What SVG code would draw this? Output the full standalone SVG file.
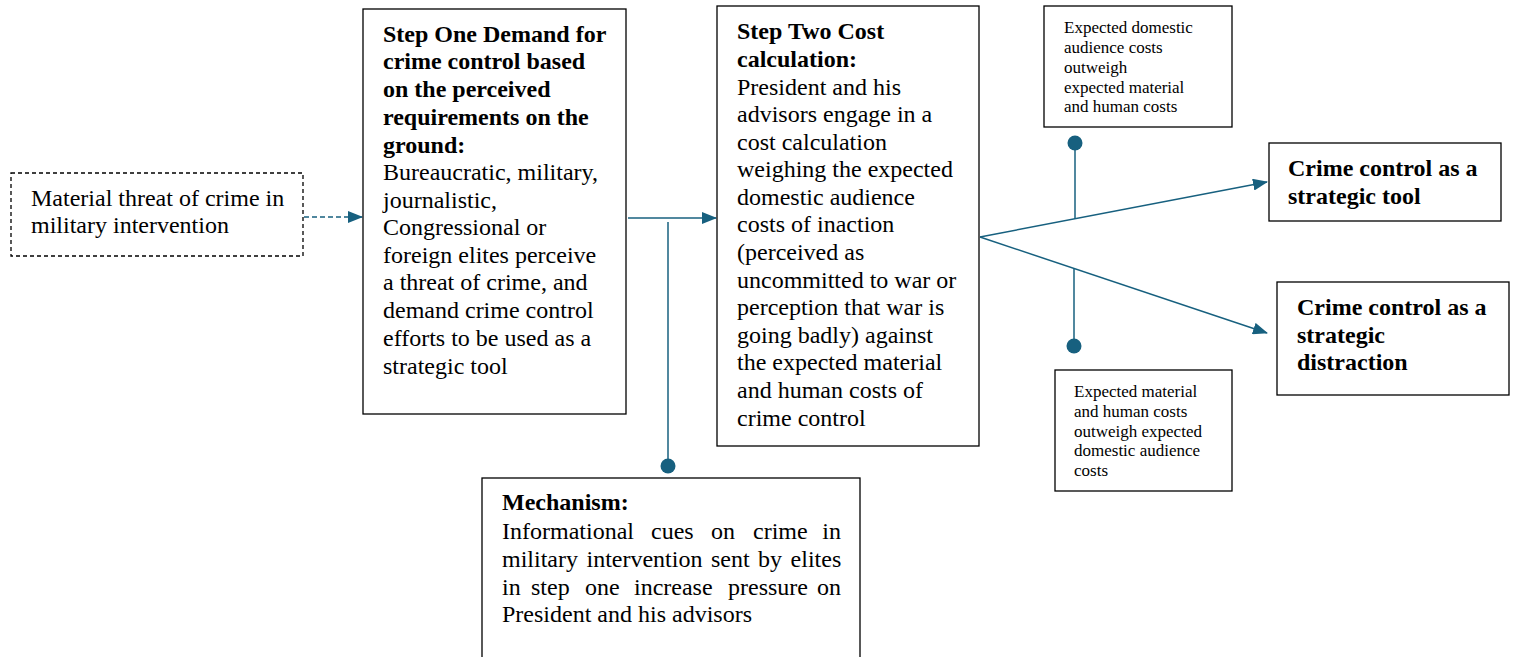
<svg xmlns="http://www.w3.org/2000/svg" width="1514" height="657" viewBox="0 0 1514 657">
<defs>
<style>
.box{fill:#fff;stroke:#000;stroke-width:1.3}
.dash{fill:#fff;stroke:#000;stroke-width:1.3;stroke-dasharray:4,3}
.t{font-family:"Liberation Serif","Times New Roman",serif;font-size:24px;fill:#000}
.b{font-weight:bold}
.big{font-family:"Liberation Serif","Times New Roman",serif;font-size:24px;font-weight:bold;fill:#000}
.s{font-family:"Liberation Serif","Times New Roman",serif;font-size:17px;fill:#000}
.c{stroke:#17607f;stroke-width:1.5;fill:none}
.dot{fill:#17607f}
</style>
<marker id="ah" markerWidth="15" markerHeight="12" refX="14" refY="6" orient="auto" markerUnits="userSpaceOnUse">
<path d="M0,0 L15,6 L0,12 Z" fill="#17607f"/>
</marker>
</defs>
<rect width="1514" height="657" fill="#fff"/>

<g id="connectors">
<line class="c" x1="304" y1="217" x2="362" y2="217" stroke-dasharray="5,3" marker-end="url(#ah)"/>
<line class="c" x1="628" y1="218" x2="716" y2="218" marker-end="url(#ah)"/>
<line class="c" x1="668" y1="222" x2="668" y2="466"/>
<circle class="dot" cx="668" cy="466" r="7.5"/>
<line class="c" x1="980" y1="237" x2="1267" y2="182" marker-end="url(#ah)"/>
<line class="c" x1="980" y1="237" x2="1267" y2="333" marker-end="url(#ah)"/>
<line class="c" x1="1075" y1="219" x2="1075" y2="143"/>
<circle class="dot" cx="1075" cy="143" r="7.5"/>
<line class="c" x1="1074" y1="269" x2="1074" y2="346"/>
<circle class="dot" cx="1074" cy="346" r="7.5"/>
</g>

<g id="material-threat">
<rect class="dash" x="11" y="173" width="292" height="83"/>
<text class="t" x="31" y="206">Material threat of crime in</text>
<text class="t" x="31" y="233">military intervention</text>
</g>

<g id="step-one">
<rect class="box" x="363" y="9" width="263" height="405"/>
<text class="t b" x="383" y="42">Step One Demand for</text>
<text class="t b" x="383" y="69">crime control based</text>
<text class="t b" x="383" y="97">on the perceived</text>
<text class="t b" x="383" y="125">requirements on the</text>
<text class="t b" x="383" y="153">ground:</text>
<text class="t" x="383" y="180">Bureaucratic, military,</text>
<text class="t" x="383" y="208">journalistic,</text>
<text class="t" x="383" y="235">Congressional or</text>
<text class="t" x="383" y="263">foreign elites perceive</text>
<text class="t" x="383" y="290">a threat of crime, and</text>
<text class="t" x="383" y="318">demand crime control</text>
<text class="t" x="383" y="346">efforts to be used as a</text>
<text class="t" x="383" y="374">strategic tool</text>
</g>

<g id="step-two">
<rect class="box" x="717" y="6" width="262" height="440"/>
<text class="t b" x="737" y="39">Step Two Cost</text>
<text class="t b" x="737" y="67">calculation:</text>
<text class="t" x="737" y="95">President and his</text>
<text class="t" x="737" y="122">advisors engage in a</text>
<text class="t" x="737" y="150">cost calculation</text>
<text class="t" x="737" y="177">weighing the expected</text>
<text class="t" x="737" y="205">domestic audience</text>
<text class="t" x="737" y="232">costs of inaction</text>
<text class="t" x="737" y="260">(perceived as</text>
<text class="t" x="737" y="288">uncommitted to war or</text>
<text class="t" x="737" y="315">perception that war is</text>
<text class="t" x="737" y="343">going badly) against</text>
<text class="t" x="737" y="370">the expected material</text>
<text class="t" x="737" y="398">and human costs of</text>
<text class="t" x="737" y="426">crime control</text>
</g>

<g id="domestic-outweigh">
<rect class="box" x="1044" y="6" width="188" height="121"/>
<text class="s" x="1064" y="33">Expected domestic</text>
<text class="s" x="1064" y="53">audience costs</text>
<text class="s" x="1064" y="73">outweigh</text>
<text class="s" x="1064" y="93">expected material</text>
<text class="s" x="1064" y="112">and human costs</text>
</g>

<g id="material-outweigh">
<rect class="box" x="1055" y="370" width="177" height="121"/>
<text class="s" x="1074" y="397">Expected material</text>
<text class="s" x="1074" y="417">and human costs</text>
<text class="s" x="1074" y="437">outweigh expected</text>
<text class="s" x="1074" y="456">domestic audience</text>
<text class="s" x="1074" y="476">costs</text>
</g>

<g id="strategic-tool">
<rect class="box" x="1269" y="143" width="232" height="78"/>
<text class="big" x="1288" y="176">Crime control as a</text>
<text class="big" x="1288" y="204">strategic tool</text>
</g>

<g id="strategic-distraction">
<rect class="box" x="1277" y="282" width="232" height="113"/>
<text class="big" x="1297" y="315">Crime control as a</text>
<text class="big" x="1297" y="343">strategic</text>
<text class="big" x="1297" y="370">distraction</text>
</g>

<g id="mechanism">
<rect class="box" x="482" y="478" width="378" height="185"/>
<text class="t b" x="502" y="510">Mechanism:</text>
<text class="t" y="539"><tspan x="502">Informational</tspan><tspan x="651">cues</tspan><tspan x="711">on</tspan><tspan x="753">crime</tspan><tspan x="841" text-anchor="end">in</tspan></text>
<text class="t" x="502" y="567" word-spacing="2.5">military intervention sent by elites</text>
<text class="t" y="595"><tspan x="502">in</tspan><tspan x="531">step</tspan><tspan x="585">one</tspan><tspan x="634">increase</tspan><tspan x="728">pressure</tspan><tspan x="841" text-anchor="end">on</tspan></text>
<text class="t" x="502" y="622">President and his advisors</text>
</g>
</svg>
